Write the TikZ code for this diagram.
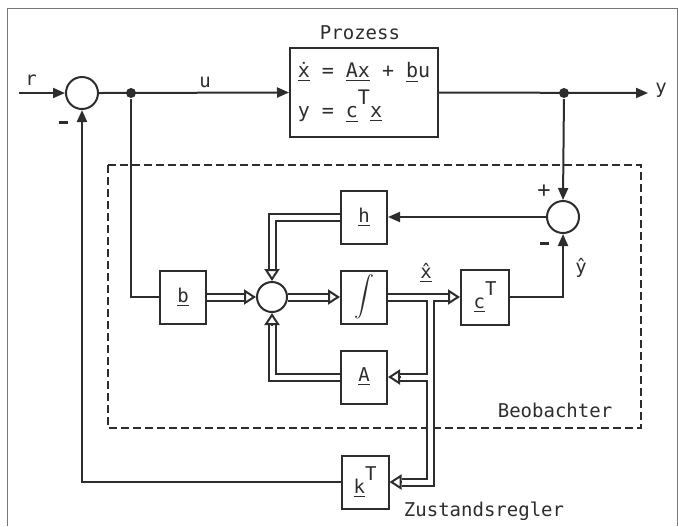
\documentclass[tikz,border=0pt]{standalone}
\usepackage{fontspec}
\setmonofont{DejaVu Sans Mono}
\usetikzlibrary{arrows.meta}
\definecolor{inkdark}{RGB}{45,45,45}
\definecolor{framegray}{RGB}{120,120,120}
\newcommand{\minussign}{\rule[0.3ex]{4.5pt}{1.1pt}}

\begin{document}
\begin{tikzpicture}[
  x=0.5pt,y=-0.5pt,
  color=inkdark,line width=1pt,
  every node/.style={font=\ttfamily\fontsize{9.5}{11}\selectfont},
  blk/.style={draw,line width=1pt,minimum width=23pt,minimum height=26.5pt,inner sep=0pt},
  sum/.style={circle,draw,line width=1pt,minimum size=16pt,inner sep=0pt},
  dot/.style={circle,fill,minimum size=5pt,inner sep=0pt},
  arr/.style={-{Triangle[length=6pt,width=5pt]}},
  vecline/.style={shorten >=6pt,line join=miter,line cap=butt},
  vechead/.style={-{Triangle[length=6pt,width=7.5pt,fill=white]}},
  obs/.style={dash pattern=on 4pt off 2pt}
]
\useasboundingbox (0,0) rectangle (678,526);
\draw[framegray,line width=0.5pt] (7,526) -- (7,8) -- (677,8) -- (677,526);

% Regelstrecke
\node[sum] (sumr) at (82,93) {};
\node[blk,minimum width=74pt,minimum height=44.5pt,align=left,
  font=\ttfamily\fontsize{10}{20}\selectfont] (proc) at (364,92.5)
  {\underline{ẋ} = \underline{A}\underline{x} + \underline{b}u\\
   y = \underline{c}\raisebox{1.2ex}{T}\underline{x}};
\node (prozlab) at (360,33) {Prozess};
\coordinate (rin) at (19,93);
\coordinate (yout) at (648,93);
\node[dot] (ubranch) at (131,93) {};
\node[dot] (ybranch) at (564,93) {};
\node (rlab) at (31,80) {r};
\node (ulab) at (205,82) {u};
\node (ylab) at (661,90) {y};
\node (minr) at (63,124) {\minussign};

% Beobachter
\draw[obs] (108,165) rectangle (641,428);
\node (obslab) at (555,410) {Beobachter};
\node[sum] (sumy) at (563,217) {};
\node[blk] (hbox) at (364,217) {\underline{h}};
\node[blk] (bbox) at (183,297) {\underline{b}};
\node[sum,minimum size=15pt] (sumc) at (272,297) {};
\node[blk] (intbox) at (364,297) {$\displaystyle\int$};
\node[blk,minimum width=24pt,minimum height=27.5pt] (cTbox) at (485,297)
  {\underline{c}\raisebox{1.3ex}{T}};
\node[blk] (Abox) at (364,377) {\underline{A}};
\coordinate (xbranch) at (430,297);
\node (xlab) at (426,273) {\underline{x̂}};
\node (yhlab) at (581,268) {ŷ};
\node[font=\ttfamily\fontsize{11}{12}\selectfont] (plusy) at (544,191) {+};
\node (miny) at (544,245) {\minussign};

% Zustandsregler
\node[blk,minimum width=23.5pt] (kbox) at (365,482) {\underline{k}\raisebox{1.3ex}{T}};
\node (klab) at (484,511) {Zustandsregler};

% skalare Signale
\draw[arr] (rin) -- (sumr.west);
\draw[arr] (sumr.east) -- (proc.west);
\draw[arr] (proc.east) -- (yout);
\draw[arr] (ybranch) -- (sumy.north);
\draw[arr] (sumy.west) -- (hbox.east);
\draw[arr] (cTbox.east) -| (sumy.south);
\draw (ubranch) |- (bbox.west);
\draw[arr] (kbox.west) -| (sumr.south);

% vektorielle Signale (Doppellinien)
\foreach \wd/\col in {4.5pt/inkdark,2.5pt/white}{
  \draw[vecline,line width=\wd,draw=\col] (bbox.east) -- (sumc.west);
  \draw[vecline,line width=\wd,draw=\col] (hbox.west) -| (sumc.north);
  \draw[vecline,line width=\wd,draw=\col] (Abox.west) -| (sumc.south);
  \draw[vecline,line width=\wd,draw=\col] (sumc.east) -- (intbox.west);
  \draw[vecline,line width=\wd,draw=\col] (intbox.east) -- (cTbox.west);
  \draw[vecline,line width=\wd,draw=\col] (xbranch) |- (Abox.east);
  \draw[vecline,line width=\wd,draw=\col] (xbranch) |- (kbox.east);
}
\draw[vechead] ([xshift=-6pt]sumc.west) -- (sumc.west);
\draw[vechead] ([yshift=6pt]sumc.north) -- (sumc.north);
\draw[vechead] ([yshift=-6pt]sumc.south) -- (sumc.south);
\draw[vechead] ([xshift=-6pt]intbox.west) -- (intbox.west);
\draw[vechead] ([xshift=-6pt]cTbox.west) -- (cTbox.west);
\draw[vechead] ([xshift=6pt]Abox.east) -- (Abox.east);
\draw[vechead] ([xshift=6pt]kbox.east) -- (kbox.east);
\end{tikzpicture}
\end{document}
